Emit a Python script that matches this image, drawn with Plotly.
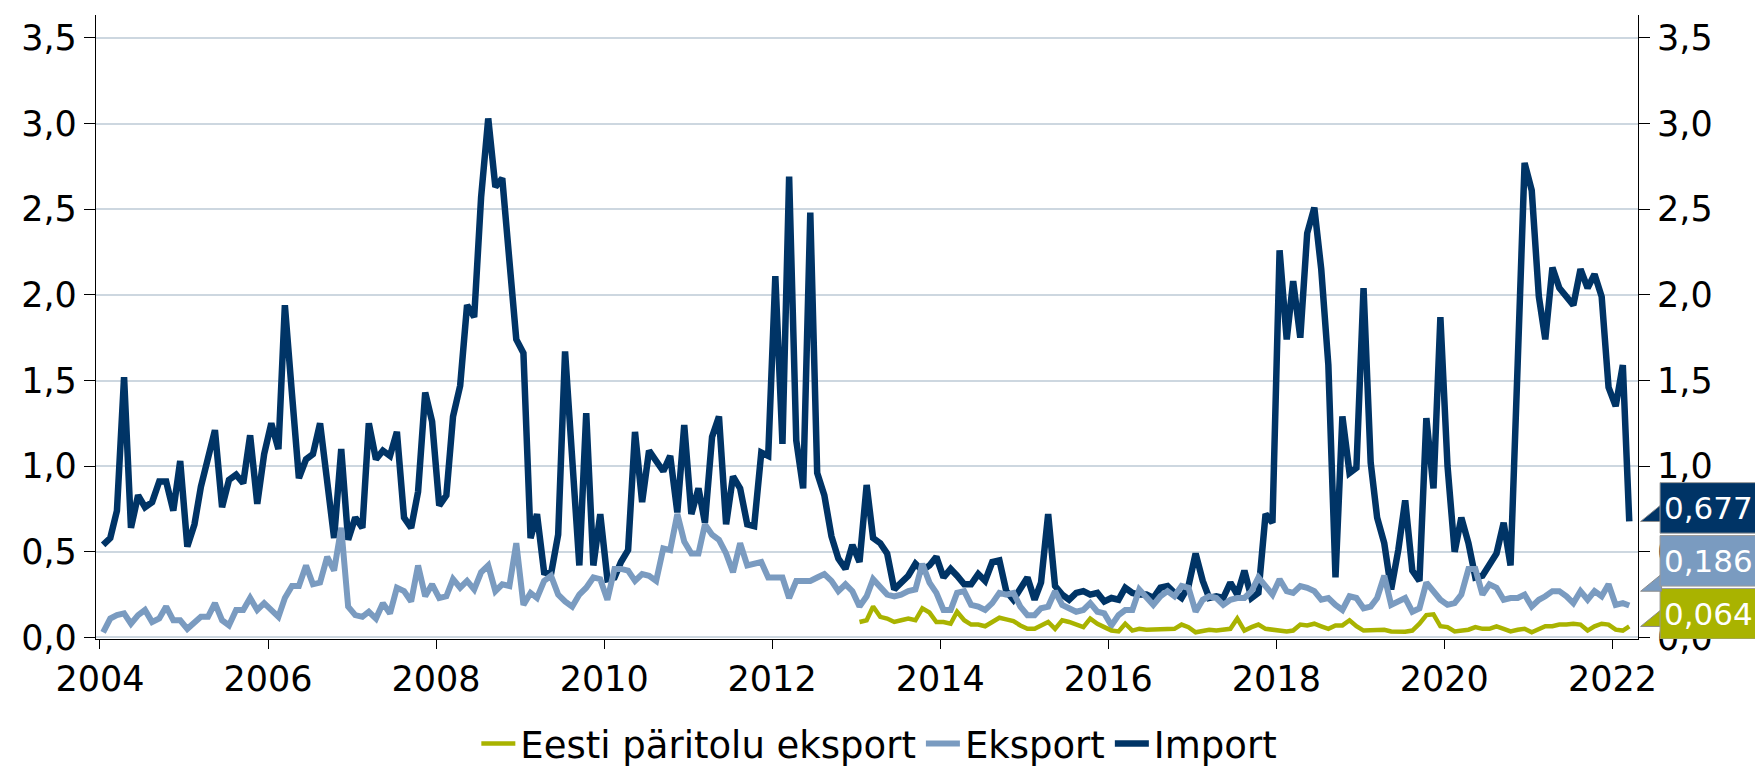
import pandas as pd
import plotly.graph_objects as go

# ---------------- data (monthly, Jan 2004 - Mar 2022) ----------------
import_vals = [
    0.54, 0.58, 0.74, 1.52, 0.64, 0.83, 0.76, 0.79, 0.91, 0.91,
    0.74, 1.03, 0.53, 0.66, 0.88, 1.07, 1.21, 0.76, 0.92, 0.95,
    0.90, 1.18, 0.78, 1.07, 1.25, 1.10, 1.94, 1.42, 0.93, 1.04,
    1.07, 1.25, 0.87, 0.58, 1.10, 0.57, 0.70, 0.64, 1.25, 1.04,
    1.09, 1.06, 1.20, 0.70, 0.64, 0.85, 1.43, 1.26, 0.77, 0.83,
    1.29, 1.47, 1.94, 1.87, 2.57, 3.03, 2.63, 2.68, 2.20, 1.74,
    1.66, 0.58, 0.72, 0.38, 0.37, 0.60, 1.67, 1.04, 0.42, 1.31,
    0.42, 0.72, 0.34, 0.35, 0.44, 0.51, 1.20, 0.79, 1.09, 1.03,
    0.97, 1.06, 0.73, 1.24, 0.72, 0.87, 0.67, 1.17, 1.29, 0.66,
    0.94, 0.87, 0.66, 0.65, 1.08, 1.06, 2.11, 1.13, 2.69, 1.15,
    0.87, 2.48, 0.96, 0.83, 0.59, 0.46, 0.40, 0.54, 0.44, 0.89,
    0.58, 0.55, 0.49, 0.28, 0.32, 0.36, 0.43, 0.39, 0.42, 0.47,
    0.35, 0.40, 0.36, 0.31, 0.31, 0.37, 0.33, 0.44, 0.45, 0.27,
    0.22, 0.29, 0.35, 0.22, 0.32, 0.72, 0.30, 0.25, 0.22, 0.26,
    0.27, 0.25, 0.26, 0.21, 0.23, 0.22, 0.29, 0.26, 0.25, 0.25,
    0.23, 0.29, 0.30, 0.26, 0.23, 0.30, 0.49, 0.33, 0.23, 0.24,
    0.23, 0.32, 0.25, 0.39, 0.23, 0.26, 0.72, 0.67, 2.26, 1.74,
    2.08, 1.75, 2.36, 2.51, 2.15, 1.59, 0.35, 1.29, 0.96, 0.99,
    2.04, 1.02, 0.70, 0.55, 0.28, 0.51, 0.80, 0.39, 0.33, 1.28,
    0.87, 1.87, 1.00, 0.50, 0.70, 0.55, 0.35, 0.36, 0.43, 0.49,
    0.67, 0.42, 1.60, 2.77, 2.61, 1.99, 1.74, 2.16, 2.04, 1.99,
    1.94, 2.15, 2.04, 2.12, 1.99, 1.46, 1.35, 1.59, 0.677,
]

eksport_vals = [
    0.03, 0.11, 0.13, 0.14, 0.08, 0.13, 0.16, 0.09, 0.11, 0.18,
    0.10, 0.10, 0.05, 0.09, 0.12, 0.12, 0.20, 0.10, 0.07, 0.16,
    0.16, 0.23, 0.16, 0.20, 0.16, 0.12, 0.23, 0.30, 0.30, 0.42,
    0.31, 0.32, 0.47, 0.39, 0.64, 0.18, 0.13, 0.12, 0.15, 0.11,
    0.20, 0.14, 0.29, 0.27, 0.21, 0.42, 0.24, 0.31, 0.23, 0.24,
    0.34, 0.29, 0.33, 0.28, 0.38, 0.42, 0.27, 0.31, 0.30, 0.55,
    0.19, 0.26, 0.23, 0.33, 0.36, 0.25, 0.21, 0.18, 0.25, 0.29,
    0.35, 0.34, 0.22, 0.40, 0.40, 0.39, 0.33, 0.37, 0.36, 0.33,
    0.52, 0.51, 0.72, 0.56, 0.49, 0.49, 0.66, 0.60, 0.57, 0.49,
    0.38, 0.55, 0.42, 0.43, 0.44, 0.35, 0.35, 0.35, 0.23, 0.33,
    0.33, 0.33, 0.35, 0.37, 0.33, 0.27, 0.31, 0.27, 0.18, 0.24,
    0.34, 0.29, 0.25, 0.24, 0.25, 0.27, 0.28, 0.43, 0.32, 0.26,
    0.16, 0.16, 0.26, 0.27, 0.19, 0.18, 0.16, 0.20, 0.26, 0.25,
    0.26, 0.18, 0.13, 0.13, 0.17, 0.18, 0.27, 0.19, 0.17, 0.15,
    0.16, 0.20, 0.15, 0.14, 0.07, 0.13, 0.16, 0.16, 0.28, 0.24,
    0.19, 0.24, 0.27, 0.24, 0.30, 0.29, 0.15, 0.22, 0.24, 0.23,
    0.19, 0.22, 0.23, 0.23, 0.27, 0.35, 0.30, 0.25, 0.34, 0.27,
    0.26, 0.30, 0.29, 0.27, 0.22, 0.23, 0.19, 0.16, 0.24, 0.23,
    0.17, 0.18, 0.23, 0.36, 0.19, 0.21, 0.23, 0.15, 0.17, 0.32,
    0.27, 0.22, 0.19, 0.20, 0.25, 0.40, 0.40, 0.25, 0.31, 0.29,
    0.22, 0.23, 0.23, 0.25, 0.18, 0.22, 0.24, 0.27, 0.27, 0.24,
    0.20, 0.27, 0.22, 0.27, 0.24, 0.31, 0.19, 0.20, 0.186,
]

# Eesti päritolu eksport: Jan 2013 - Mar 2022
eesti_vals = [
    0.09, 0.10, 0.18, 0.12, 0.11, 0.09, 0.10, 0.11, 0.10, 0.17,
    0.145, 0.09, 0.09, 0.08, 0.15, 0.10, 0.075, 0.075, 0.065, 0.09,
    0.115, 0.105, 0.095, 0.07, 0.05, 0.05, 0.07, 0.09, 0.05, 0.10,
    0.09, 0.075, 0.06, 0.11, 0.08, 0.06, 0.04, 0.035, 0.08, 0.04,
    0.05, 0.045, 0.047, 0.047, 0.05, 0.05, 0.075, 0.06, 0.03, 0.04,
    0.045, 0.04, 0.045, 0.05, 0.11, 0.04, 0.06, 0.075, 0.05, 0.045,
    0.04, 0.035, 0.04, 0.075, 0.07, 0.08, 0.065, 0.05, 0.07, 0.07,
    0.10, 0.065, 0.04, 0.04, 0.045, 0.045, 0.035, 0.035, 0.033, 0.04,
    0.08, 0.13, 0.135, 0.065, 0.06, 0.035, 0.04, 0.045, 0.06, 0.05,
    0.05, 0.065, 0.05, 0.035, 0.045, 0.05, 0.03, 0.05, 0.065, 0.065,
    0.075, 0.075, 0.08, 0.075, 0.04, 0.065, 0.08, 0.075, 0.045, 0.04, 0.064,
]

series_start = "2004-01-01"
eesti_start = "2013-01-01"
year_ticks = list(range(2004, 2023, 2))

# ---------------- style ----------------
NAVY = "#003466"
LIGHT = "#7A9BC0"
OLIVE = "#A9B300"
GRID = "#CDD7E0"
FONT = "DejaVu Sans, Verdana, sans-serif"
FS = 35

mid = pd.Timedelta(days=14)
dates = pd.date_range(series_start, periods=len(import_vals), freq="MS") + mid
eesti_dates = pd.date_range(eesti_start, periods=len(eesti_vals), freq="MS") + mid

YMIN, YMAX = -0.0093, 3.634

fig = go.Figure()
fig.add_trace(go.Scatter(x=dates, y=import_vals, name="Import", mode="lines",
                         line=dict(color=NAVY, width=6.5)))
fig.add_trace(go.Scatter(x=dates, y=eksport_vals, name="Eksport", mode="lines",
                         line=dict(color=LIGHT, width=6)))
fig.add_trace(go.Scatter(x=eesti_dates, y=eesti_vals, name="Eesti päritolu eksport",
                         mode="lines", line=dict(color=OLIVE, width=4.5), yaxis="y2"))

axis_common = dict(
    showline=True, linecolor="black", linewidth=1.2, automargin=False,
    ticks="outside", tickcolor="black", ticklen=11, tickwidth=1.2,
    tickfont=dict(family=FONT, size=FS, color="black"),
)

fig.update_layout(
    width=1755, height=769,
    margin=dict(l=96, r=117, t=15, b=130, pad=0, autoexpand=False),
    paper_bgcolor="white", plot_bgcolor="white",
    separators=", ",
    font=dict(family=FONT, size=FS, color="black"),
    showlegend=True,
    legend=dict(orientation="h", x=0.508, xanchor="center", y=-0.168, yanchor="middle",
                traceorder="reversed", font=dict(family=FONT, size=37, color="black"),
                bgcolor="rgba(0,0,0,0)", itemwidth=34),
    xaxis=dict(type="date", range=["2003-12-15", "2022-04-22"],
               tickvals=[f"{y}-01-01" for y in year_ticks],
               ticktext=[str(y) for y in year_ticks],
               showgrid=False, zeroline=False, **{**axis_common, "ticklen": 9}),
    yaxis=dict(range=[YMIN, YMAX], dtick=0.5, tick0=0, tickformat=".1f",
               showgrid=True, gridcolor=GRID, gridwidth=2, zeroline=False,
               **axis_common),
    yaxis2=dict(range=[YMIN, YMAX], dtick=0.5, tick0=0, tickformat=".1f",
                overlaying="y", side="right", showgrid=False, zeroline=False,
                **axis_common),
)

# ---------------- end-value callouts on the right ----------------
last_items = [
    (eesti_vals[-1], OLIVE),
    (eksport_vals[-1], LIGHT),
    (import_vals[-1], NAVY),
]
box_h = 0.295
box_gap = 0.014
box_x0 = 1.0143
tip_x = 1.0017
prev_top = YMIN
boxes = []
for val, col in sorted(last_items, key=lambda t: t[0]):
    b0 = max(val - box_h / 2, prev_top + (box_gap if prev_top > YMIN else 0))
    b1 = b0 + box_h
    prev_top = b1
    boxes.append((val, col, b0, b1))

for val, col, b0, b1 in boxes:
    tip_y = min(max(val, b0 - 0.03), b1 - 0.1)
    fig.add_shape(type="path", xref="paper", yref="y", layer="above",
                  path=f"M {tip_x},{tip_y} L {box_x0 + 0.001},{tip_y} L {box_x0 + 0.001},{tip_y + 0.1} Z",
                  fillcolor=col, line=dict(color="#8C8C8C", width=1))
    fig.add_shape(type="rect", xref="paper", yref="y", layer="above",
                  x0=box_x0, x1=1.2, y0=b0, y1=b1,
                  fillcolor=col, line=dict(color="#9A9A9A", width=1))
    fig.add_annotation(xref="paper", yref="y", x=box_x0 + 0.001, y=(b0 + b1) / 2,
                       xanchor="left", yanchor="middle", showarrow=False,
                       text=f"{val:.3f}".replace(".", ","),
                       font=dict(family=FONT, size=31, color="white"))

fig.write_html(
    "out.html",
    config={"displayModeBar": False},
    post_script="document.body.style.margin='0';document.body.style.overflow='hidden';",
)
